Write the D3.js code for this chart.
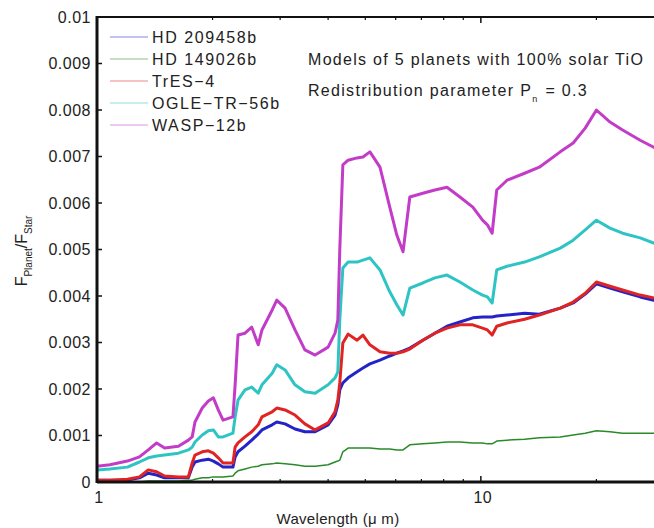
<!DOCTYPE html>
<html>
<head>
<meta charset="utf-8">
<script src="https://cdn.jsdelivr.net/npm/d3@7"></script>
<style>
  body { margin: 0; background: #fff; }
  svg { display: block; }
  text { font-family: "Liberation Sans", Arial, sans-serif; fill: #222; }
</style>
</head>
<body>
<svg id="chart" width="654" height="528"></svg>
<script>
// --- données (wavelength en µm, rapport de flux) ---
const wavelength = [1.00, 1.08, 1.20, 1.29, 1.36, 1.43, 1.50, 1.63, 1.73, 1.77, 1.80, 1.88, 1.95, 2.01, 2.07, 2.13,
    2.26, 2.29, 2.33, 2.43, 2.53, 2.63, 2.69, 2.86, 2.94, 3.09, 3.28, 3.48, 3.70, 4.00, 4.17, 4.24,
    4.29, 4.37, 4.51, 4.76, 4.93, 5.14, 5.46, 5.79, 6.04, 6.27, 6.53, 7.06, 7.59, 8.16, 8.82, 9.53,
    10.1, 10.4, 10.7, 11.0, 11.7, 13.0, 14.2, 16.1, 17.4, 18.7, 20.0, 21.7, 23.4, 26.0, 28.2, 30.0];

const hd209458b = [0.00004, 0.00004, 0.00004, 0.00009, 0.00019, 0.00015, 0.00009, 0.00009, 0.00009, 0.00032, 0.00043, 0.00047, 0.00049, 0.00045, 0.00039, 0.00032,
    0.00032, 0.00054, 0.00065, 0.00077, 0.00090, 0.00103, 0.00112, 0.00123, 0.00129, 0.00125, 0.00114, 0.00108, 0.00108, 0.00123, 0.00144, 0.00166,
    0.00198, 0.00213, 0.00224, 0.00237, 0.00245, 0.00254, 0.00262, 0.00271, 0.00277, 0.00282, 0.00288, 0.00305, 0.00320, 0.00335, 0.00344, 0.00353,
    0.00355, 0.00355, 0.00355, 0.00357, 0.00359, 0.00363, 0.00361, 0.00374, 0.00385, 0.00404, 0.00426, 0.00417, 0.00409, 0.00398, 0.00391, 0.00387];

const hd149026b = [0, 0, 0, 0, 0.00002, 0.00002, 0.00002, 0.00002, 0.00004, 0.00004, 0.00006, 0.00009, 0.00009, 0.00011, 0.00011, 0.00011,
    0.00013, 0.00019, 0.00024, 0.00028, 0.00032, 0.00034, 0.00037, 0.00039, 0.00041, 0.00039, 0.00037, 0.00034, 0.00034, 0.00037, 0.00043, 0.00045,
    0.00047, 0.00065, 0.00073, 0.00073, 0.00073, 0.00073, 0.00071, 0.00071, 0.00069, 0.00069, 0.00080, 0.00082, 0.00084, 0.00086, 0.00086, 0.00084,
    0.00084, 0.00082, 0.00082, 0.00088, 0.00090, 0.00092, 0.00095, 0.00097, 0.00101, 0.00105, 0.00110, 0.00108, 0.00105, 0.00105, 0.00105, 0.00103];

const tres4 = [0.00004, 0.00004, 0.00006, 0.00011, 0.00026, 0.00022, 0.00013, 0.00011, 0.00011, 0.00041, 0.00058, 0.00065, 0.00067, 0.00062, 0.00052, 0.00041,
    0.00041, 0.00075, 0.00084, 0.00097, 0.00108, 0.00123, 0.00140, 0.00151, 0.00159, 0.00155, 0.00144, 0.00125, 0.00112, 0.00127, 0.00151, 0.00176,
    0.00213, 0.00299, 0.00318, 0.00305, 0.00316, 0.00295, 0.00280, 0.00277, 0.00277, 0.00280, 0.00286, 0.00305, 0.00320, 0.00331, 0.00338, 0.00338,
    0.00331, 0.00327, 0.00316, 0.00335, 0.00342, 0.00350, 0.00359, 0.00374, 0.00387, 0.00406, 0.00430, 0.00421, 0.00413, 0.00402, 0.00396, 0.00391];

const ogleTr56b = [0.00026, 0.00028, 0.00032, 0.00043, 0.00052, 0.00056, 0.00058, 0.00062, 0.00069, 0.00075, 0.00086, 0.00101, 0.00110, 0.00112, 0.00097, 0.00097,
    0.00105, 0.00140, 0.00176, 0.00198, 0.00204, 0.00191, 0.00209, 0.00234, 0.00252, 0.00241, 0.00209, 0.00194, 0.00191, 0.00209, 0.00224, 0.00237,
    0.00348, 0.00460, 0.00473, 0.00473, 0.00477, 0.00482, 0.00456, 0.00409, 0.00381, 0.00359, 0.00417, 0.00428, 0.00439, 0.00445, 0.00430, 0.00413,
    0.00402, 0.00398, 0.00385, 0.00456, 0.00464, 0.00473, 0.00484, 0.00503, 0.00520, 0.00542, 0.00563, 0.00546, 0.00535, 0.00525, 0.00514, 0.00507];

const wasp12b = [0.00034, 0.00037, 0.00045, 0.00054, 0.00069, 0.00084, 0.00073, 0.00077, 0.00090, 0.00097, 0.00129, 0.00159, 0.00174, 0.00181, 0.00155, 0.00133,
    0.00140, 0.00209, 0.00316, 0.00320, 0.00333, 0.00295, 0.00327, 0.00370, 0.00391, 0.00374, 0.00327, 0.00284, 0.00273, 0.00290, 0.00320, 0.00348,
    0.00499, 0.00682, 0.00692, 0.00697, 0.00699, 0.00710, 0.00677, 0.00591, 0.00531, 0.00495, 0.00613, 0.00621, 0.00628, 0.00634, 0.00613, 0.00591,
    0.00563, 0.00553, 0.00535, 0.00628, 0.00649, 0.00664, 0.00677, 0.00710, 0.00729, 0.00761, 0.00800, 0.00774, 0.00757, 0.00735, 0.00720, 0.00710];

const seriesNames = ["HD 209458b", "HD 149026b", "TrES\u22124", "OGLE\u2212TR\u221256b", "WASP\u221212b"];
const seriesColors = ["#2323c8", "#2a8a2a", "#e02424", "#2ec4c4", "#c23cc8"];
const seriesValues = [hd209458b, hd149026b, tres4, ogleTr56b, wasp12b];

const yTicks = [0, 0.001, 0.002, 0.003, 0.004, 0.005, 0.006, 0.007, 0.008, 0.009, 0.01];
const xTicksMajor = [1, 10];
const xTicksMinor = [2, 3, 4, 5, 6, 7, 8, 9, 20, 30];

// --- dessin ---
const svg = d3.select("#chart");
const plotLeft = 97, plotTop = 17, plotBottom = 482, plotRight = 664;

const x = d3.scaleLog().domain([1, 30]).range([plotLeft, plotRight]);
const y = d3.scaleLinear().domain([0, 0.01]).range([plotBottom, plotTop]);

const series = seriesNames.map((name, i) => ({
    name: name,
    color: seriesColors[i],
    points: wavelength.map((w, j) => [w, seriesValues[i][j]])
}));

const line = d3.line()
    .x(d => x(d[0]))
    .y(d => y(d[1]));

// courbes
svg.append("g")
    .selectAll("path")
    .data(series)
    .enter()
    .append("path")
    .attr("d", d => line(d.points))
    .attr("fill", "none")
    .attr("stroke", d => d.color)
    .attr("stroke-width", (d, i) => i === 1 ? 1.5 : 3)
    .attr("stroke-linejoin", "round");

// axes (boîte style Matlab)
svg.append("line")
    .attr("x1", plotLeft).attr("x2", 654)
    .attr("y1", plotBottom).attr("y2", plotBottom)
    .attr("stroke", "#111").attr("stroke-width", 3);
svg.append("line")
    .attr("x1", plotLeft).attr("x2", 654)
    .attr("y1", plotTop).attr("y2", plotTop)
    .attr("stroke", "#111").attr("stroke-width", 2);
svg.append("line")
    .attr("x1", plotLeft).attr("x2", plotLeft)
    .attr("y1", plotTop - 1).attr("y2", plotBottom + 1)
    .attr("stroke", "#111").attr("stroke-width", 3);

// graduations Y
svg.selectAll(".ytick")
    .data(yTicks)
    .enter()
    .append("line")
    .attr("x1", plotLeft).attr("x2", plotLeft + 5)
    .attr("y1", d => y(d)).attr("y2", d => y(d))
    .attr("stroke", "#111").attr("stroke-width", 1.5);

svg.selectAll(".ylabel")
    .data(yTicks)
    .enter()
    .append("text")
    .attr("x", 91)
    .attr("y", d => y(d))
    .attr("dy", "0.35em")
    .attr("text-anchor", "end")
    .attr("font-size", 16)
    .attr("letter-spacing", 0.5)
    .text(d => d === 0 ? "0" : d3.format(".3~f")(d));

// graduations X (bas et haut)
[plotBottom, plotTop].forEach(yy => {
    const dir = yy === plotBottom ? -1 : 1;
    svg.selectAll(null)
        .data(xTicksMajor)
        .enter()
        .append("line")
        .attr("x1", d => x(d)).attr("x2", d => x(d))
        .attr("y1", yy).attr("y2", yy + dir * 6)
        .attr("stroke", "#111").attr("stroke-width", 1.5);
    svg.selectAll(null)
        .data(xTicksMinor)
        .enter()
        .append("line")
        .attr("x1", d => x(d)).attr("x2", d => x(d))
        .attr("y1", yy).attr("y2", yy + dir * 3)
        .attr("stroke", "#111").attr("stroke-width", 1.2);
});

svg.selectAll(".xlabel")
    .data(xTicksMajor)
    .enter()
    .append("text")
    .attr("x", d => x(d) + 2)
    .attr("y", 503)
    .attr("text-anchor", "middle")
    .attr("font-size", 16)
    .attr("letter-spacing", 0.5)
    .text(d => d);

// titres des axes
svg.append("text")
    .attr("x", 338)
    .attr("y", 524)
    .attr("text-anchor", "middle")
    .attr("font-size", 15)
    .attr("letter-spacing", 0.3)
    .text("Wavelength (\u03bc m)");

const ylab = svg.append("text")
    .attr("transform", "translate(27,251) rotate(-90)")
    .attr("text-anchor", "middle")
    .attr("font-size", 16);
ylab.append("tspan").text("F");
ylab.append("tspan").attr("font-size", 10).attr("dy", 5).text("Planet");
ylab.append("tspan").attr("dy", -5).text("/F");
ylab.append("tspan").attr("font-size", 10).attr("dy", 5).text("Star");

// légende
const legend = svg.append("g")
    .selectAll("g")
    .data(series)
    .enter()
    .append("g")
    .attr("transform", (d, i) => "translate(0," + (37 + i * 22) + ")");

legend.append("line")
    .attr("x1", 110).attr("x2", 148)
    .attr("stroke", d => d.color)
    .attr("stroke-width", 1.2)
    .attr("stroke-opacity", 0.55);

legend.append("text")
    .attr("x", 152)
    .attr("dy", "0.36em")
    .attr("font-size", 16)
    .attr("letter-spacing", 1.6)
    .text(d => d.name);

// annotation
svg.append("text")
    .attr("x", 308)
    .attr("y", 65)
    .attr("font-size", 16)
    .attr("letter-spacing", 1.3)
    .text("Models of 5 planets with 100% solar TiO");

const note = svg.append("text")
    .attr("x", 308)
    .attr("y", 96)
    .attr("font-size", 16)
    .attr("letter-spacing", 1.3);
note.append("tspan").text("Redistribution parameter P");
note.append("tspan").attr("font-size", 9).attr("dy", 6).text("n");
note.append("tspan").attr("dy", -6).attr("dx", 7).text("= 0.3");
</script>
</body>
</html>
